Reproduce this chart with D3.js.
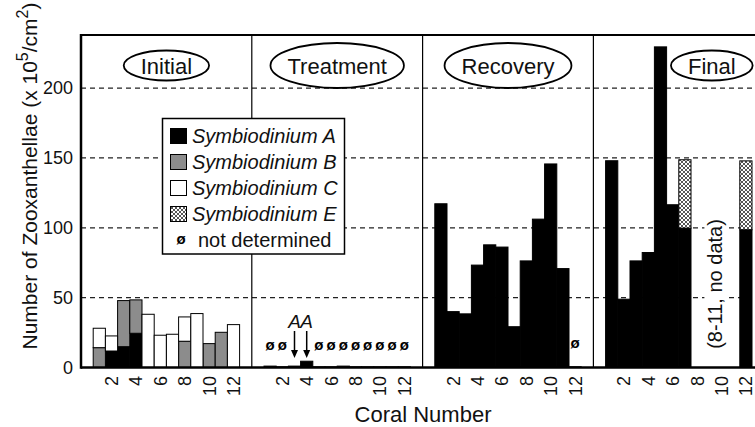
<!DOCTYPE html>
<html><head><meta charset="utf-8">
<script src="https://cdn.jsdelivr.net/npm/d3@7"></script>
<style>
body{margin:0;background:#fff;}
svg{display:block;font-family:Arial,"Liberation Sans",Helvetica,sans-serif;}
</style></head><body>
<svg id="chart" width="755" height="427"></svg>
<script>
// phases + corals
const phases = ["Initial", "Treatment", "Recovery", "Final"];
const corals = [1, 2, 3, 4, 5, 6, 7, 8, 9, 10, 11, 12];
const yTicks = [0, 50, 100, 150, 200];
const xTickLabels = [2, 4, 6, 8, 10, 12];
const legendLabels = ["Symbiodinium A", "Symbiodinium B", "Symbiodinium C", "Symbiodinium E"];
const types = ["A", "B", "C", "E"];

// values per coral (x 10^5 / cm2), null = no data
const initialA = [0, 11.8, 14.9, 24.5, 0, 0, 0, 0, 0, 0, 0, 0];
const initialB = [14.2, 0, 33, 23.9, 0, 0, 0, 18.8, 0, 17.1, 25.2, 0];
const initialC = [13.9, 10.8, 0, 0, 38.1, 23.1, 23.8, 17.4, 38.6, 0, 0, 30.7];
const treatmentA = [1, 0.5, 1, 4.5, 0.5, 0.5, 1, 0.5, 0.5, 0.5, 0.5, 0.5];
const recoveryA = [117.2, 40, 38.4, 73.3, 87.8, 86.2, 29.2, 76.3, 106.2, 145.7, 70.8, 0.5];
const finalA = [148, 48.9, 76.3, 82.3, 229.5, 116.5, 99.8, null, null, null, null, 98.6];
const finalE = [0, 0, 0, 0, 0, 0, 48.9, null, null, null, null, 49.3];

// annotations
const notDetTreatment = [1, 2, 5, 6, 7, 8, 9, 10, 11, 12];
const notDetRecovery = [12];
const arrowCorals = [3, 4];   // Treatment, typed as A

const zero = corals.map(() => 0);
const series = {
    Initial: { A: initialA, B: initialB, C: initialC, E: zero },
    Treatment: { A: treatmentA, B: zero, C: zero, E: zero },
    Recovery: { A: recoveryA, B: zero, C: zero, E: zero },
    Final: { A: finalA, B: zero, C: zero, E: finalE }
};

const rows = [];
phases.forEach(p => {
    corals.forEach((c, i) => {
        const s = series[p];
        if (s.A[i] === null) return;
        rows.push({ phase: p, coral: c, A: s.A[i], B: s.B[i], C: s.C[i], E: s.E[i] });
    });
});

const svg = d3.select("#chart");
const panelW = 170.8;
const plotL = 81, plotT = 35, plotB = 367.5;
const plotR = plotL + 4 * panelW;

const x0 = d3.scaleBand().domain(phases).range([plotL, plotR]);
const x1 = d3.scaleBand().domain(d3.range(0, 14)).range([0, panelW]);
const y = d3.scaleLinear().domain([0, 238]).range([plotB, plotT]);
const cx = (p, c) => x0(p) + x1(c) + x1.bandwidth() / 2;

// hatch pattern for E
const defs = svg.append("defs");
const pat = defs.append("pattern").attr("id", "hatch").attr("patternUnits", "userSpaceOnUse")
    .attr("width", 4).attr("height", 4);
pat.append("rect").attr("width", 4).attr("height", 4).attr("fill", "#fff");
pat.append("path").attr("d", "M0,0L4,4M4,0L0,4").attr("stroke", "#444").attr("stroke-width", 0.9);

const fills = { A: "#000", B: "#8c8c8c", C: "#fff", E: "url(#hatch)" };

// grid
svg.append("g").selectAll("line").data(yTicks.filter(d => d > 0)).join("line")
    .attr("x1", plotL).attr("x2", plotR)
    .attr("y1", d => y(d)).attr("y2", d => y(d))
    .attr("stroke", "#222").attr("stroke-width", 1.3).attr("stroke-dasharray", "5,4");

// panel dividers
svg.append("g").selectAll("line").data(phases.slice(1)).join("line")
    .attr("x1", d => x0(d)).attr("x2", d => x0(d))
    .attr("y1", plotT).attr("y2", plotB)
    .attr("stroke", "#000").attr("stroke-width", 1.2);

// bars
const stacked = d3.stack().keys(types)(rows);
svg.append("g").selectAll("g").data(stacked).join("g")
    .attr("fill", d => fills[d.key])
    .selectAll("rect").data(d => d.filter(v => v[1] - v[0] > 0)).join("rect")
    .attr("x", d => x0(d.data.phase) + x1(d.data.coral))
    .attr("width", x1.bandwidth())
    .attr("y", d => y(d[1]))
    .attr("height", d => y(d[0]) - y(d[1]))
    .attr("stroke", "#000").attr("stroke-width", 1);

// y axis
const yAxis = svg.append("g").attr("transform", `translate(${plotL},0)`)
    .call(d3.axisLeft(y).tickValues(yTicks).tickSize(0).tickPadding(8));
yAxis.select(".domain").remove();
yAxis.selectAll("text").attr("font-size", 18).attr("fill", "#111")
    .attr("font-family", "Arial, 'Liberation Sans', sans-serif");

// x tick labels, rotated
const xt = [];
phases.forEach(p => xTickLabels.forEach(t => xt.push({ p, t })));
svg.append("g").selectAll("text").data(xt).join("text")
    .attr("transform", d => `translate(${cx(d.p, d.t)},376) rotate(-90)`)
    .attr("dy", "0.36em").attr("text-anchor", "end")
    .attr("font-size", 18).attr("fill", "#111")
    .text(d => d.t);

// legend
const lg = svg.append("g");
lg.append("rect").attr("x", 162.5).attr("y", 118.5).attr("width", 182).attr("height", 135.5)
    .attr("fill", "#fff").attr("stroke", "#000").attr("stroke-width", 1.5);
const ly = d3.scalePoint().domain(d3.range(0, 5)).range([136, 240]);
legendLabels.forEach((l, i) => {
    lg.append("rect").attr("x", 170.5).attr("y", ly(i) - 7.5).attr("width", 16).attr("height", 15)
        .attr("fill", fills[types[i]]).attr("stroke", "#000").attr("stroke-width", 1);
    lg.append("text").attr("x", 192).attr("y", ly(i) + 7).attr("font-size", 20)
        .attr("font-style", "italic").attr("fill", "#111").text(l);
});
lg.append("text").attr("x", 181).attr("y", ly(4) + 4).attr("text-anchor", "middle")
    .attr("font-size", 15).attr("font-weight", "bold").text("ø");
lg.append("text").attr("x", 198).attr("y", ly(4) + 7).attr("font-size", 20)
    .attr("fill", "#111").text("not determined");

// phase labels in ellipses
phases.forEach(p => {
    const g = svg.append("g");
    const px = x0(p) + panelW / 2 + (p === "Final" ? 33 : 0);
    const el = g.append("ellipse").attr("cx", px).attr("cy", 65.5)
        .attr("fill", "#fff").attr("stroke", "#000").attr("stroke-width", 1.8);
    const t = g.append("text").attr("x", px).attr("y", 73.5).attr("text-anchor", "middle")
        .attr("font-size", 22).attr("fill", "#111").text(p);
    const w = t.node().getComputedTextLength();
    el.attr("rx", w / 2 + 17).attr("ry", w > 80 ? 22.5 : 15);
});

// not determined marks
const nd = notDetTreatment.map(c => ({ p: "Treatment", c, yy: 350 }))
    .concat(notDetRecovery.map(c => ({ p: "Recovery", c, yy: 348 })));
svg.append("g").selectAll("text").data(nd).join("text")
    .attr("x", d => cx(d.p, d.c)).attr("y", d => d.yy)
    .attr("text-anchor", "middle").attr("font-size", 15).attr("font-weight", "bold")
    .text("ø");

// arrows with A
const ag = svg.append("g").selectAll("g").data(arrowCorals).join("g")
    .attr("transform", c => `translate(${cx("Treatment", c)},0)`);
ag.append("line").attr("y1", 331).attr("y2", 352).attr("stroke", "#000").attr("stroke-width", 1.5);
ag.append("path").attr("d", "M-3.5,350L3.5,350L0,358Z").attr("fill", "#000");
ag.append("text").attr("y", 328).attr("text-anchor", "middle").attr("font-size", 19)
    .attr("font-style", "italic").attr("fill", "#111").text("A");

// no data note
const ndx = (cx("Final", 8) + cx("Final", 11)) / 2;
const note = svg.append("g").attr("transform", `translate(${ndx},284) rotate(-90)`);
const nt = note.append("text").attr("text-anchor", "middle").attr("dy", "0.35em")
    .attr("font-size", 20).attr("fill", "#111").text("(8-11, no data)");
const bb = nt.node().getBBox();
note.insert("rect", "text").attr("x", bb.x - 3).attr("y", bb.y).attr("width", bb.width + 6)
    .attr("height", bb.height).attr("fill", "#fff");

// frame
svg.append("line").attr("x1", plotL).attr("x2", plotL).attr("y1", plotT - 1).attr("y2", plotB + 1.2)
    .attr("stroke", "#000").attr("stroke-width", 2.5);
svg.append("line").attr("x1", plotL).attr("x2", plotR).attr("y1", plotT).attr("y2", plotT)
    .attr("stroke", "#000").attr("stroke-width", 2);
svg.append("line").attr("x1", plotL).attr("x2", plotR).attr("y1", plotB).attr("y2", plotB)
    .attr("stroke", "#000").attr("stroke-width", 2.5);

// axis titles
svg.append("text").attr("x", 423).attr("y", 422).attr("text-anchor", "middle")
    .attr("font-size", 22).attr("fill", "#111").text("Coral Number");

const yt = svg.append("text").attr("transform", "translate(37,176) rotate(-90)")
    .attr("text-anchor", "middle").attr("font-size", 21).attr("fill", "#111");
yt.append("tspan").text("Number of Zooxanthellae (x 10");
yt.append("tspan").attr("font-size", 16).attr("dy", -9).text("5");
yt.append("tspan").attr("dy", 9).text("/cm");
yt.append("tspan").attr("font-size", 16).attr("dy", -9).text("2");
yt.append("tspan").attr("dy", 9).text(")");
</script>
</body></html>
